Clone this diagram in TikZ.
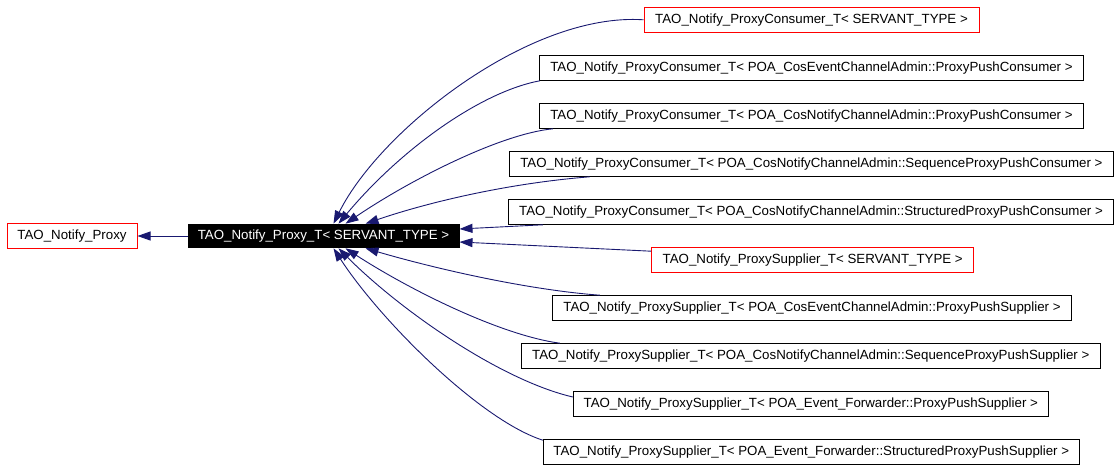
\documentclass[tikz,border=0pt]{standalone}
\usepackage{fontspec}
\setmainfont{Liberation Sans}
\usetikzlibrary{arrows.meta}
\definecolor{edgeblue}{RGB}{25,25,112}

\tikzset{
  cls/.style={draw=black, line width=1pt, fill=white, minimum height=24.6pt, inner sep=0pt, font=\fontsize{13.3}{15}\selectfont},
  undoc/.style={cls, draw=red},
  cur/.style={cls, fill=black, text=white, minimum height=23.6pt},
  inh/.style={edgeblue, line width=0.9pt, -{Triangle[length=13pt,width=9pt]}}
}

\begin{document}
\begin{tikzpicture}[x=1pt, y=-1pt]
        \useasboundingbox (0,0) rectangle (1120,469);
        % classes
        \node[undoc, minimum width=130pt] (base) at (72,236) {TAO\_Notify\_Proxy};
        \node[cur, minimum width=271pt] (proxyT) at (323.5,236) {TAO\_Notify\_Proxy\_T< SERVANT\_TYPE >};
        \node[undoc, minimum width=335pt] (pc1) at (811.5,19.8) {TAO\_Notify\_ProxyConsumer\_T< SERVANT\_TYPE >};
        \node[cls, minimum width=544.4pt] (pc2) at (811.5,68) {TAO\_Notify\_ProxyConsumer\_T< POA\_CosEventChannelAdmin::ProxyPushConsumer >};
        \node[cls, minimum width=544.4pt] (pc3) at (811.5,116) {TAO\_Notify\_ProxyConsumer\_T< POA\_CosNotifyChannelAdmin::ProxyPushConsumer >};
        \node[cls, minimum width=604.5pt] (pc4) at (811.4,164) {TAO\_Notify\_ProxyConsumer\_T< POA\_CosNotifyChannelAdmin::SequenceProxyPushConsumer >};
        \node[cls, minimum width=605.4pt] (pc5) at (811,212) {TAO\_Notify\_ProxyConsumer\_T< POA\_CosNotifyChannelAdmin::StructuredProxyPushConsumer >};
        \node[undoc, minimum width=322pt] (ps6) at (812.7,260) {TAO\_Notify\_ProxySupplier\_T< SERVANT\_TYPE >};
        \node[cls, minimum width=519.4pt] (ps7) at (812,308) {TAO\_Notify\_ProxySupplier\_T< POA\_CosEventChannelAdmin::ProxyPushSupplier >};
        \node[cls, minimum width=579pt] (ps8) at (810.8,356) {TAO\_Notify\_ProxySupplier\_T< POA\_CosNotifyChannelAdmin::SequenceProxyPushSupplier >};
        \node[cls, minimum width=475pt] (ps9) at (810.8,404) {TAO\_Notify\_ProxySupplier\_T< POA\_Event\_Forwarder::ProxyPushSupplier >};
        \node[cls, minimum width=536pt] (ps10) at (811.3,452) {TAO\_Notify\_ProxySupplier\_T< POA\_Event\_Forwarder::StructuredProxyPushSupplier >};

        % inheritance
        \draw[inh] (proxyT.west) -- (base.east);
        \draw[inh] (pc1.west) .. controls (530,12) and (380,130) .. ([xshift=10pt]proxyT.north);
        \draw[inh] ([xshift=1pt]pc2.south west) .. controls (480,92) and (400,150) .. ([xshift=15pt]proxyT.north);
        \draw[inh] ([xshift=14pt]pc3.south west) .. controls (500,134) and (410,180) .. ([xshift=22pt]proxyT.north);
        \draw[inh] ([xshift=81pt]pc4.south west) .. controls (500,184) and (420,205) .. ([xshift=42pt]proxyT.north);
        \draw[inh] ([xshift=35pt]pc5.south west) -- ([yshift=7pt]proxyT.east);
        \draw[inh] ([yshift=-4pt]ps6.north west) -- ([yshift=-6pt]proxyT.east);
        \draw[inh] ([xshift=48pt]ps7.north west) .. controls (530,290) and (440,270) .. ([xshift=42pt]proxyT.south);
        \draw[inh] ([xshift=39pt]ps8.north west) .. controls (500,335) and (410,290) .. ([xshift=22pt]proxyT.south);
        \draw[inh] ([yshift=7pt]ps9.west) .. controls (500,380) and (400,310) .. ([xshift=15pt]proxyT.south);
        \draw[inh] ([yshift=-1pt]ps10.north west) .. controls (480,420) and (380,320) .. ([xshift=10pt]proxyT.south);
\end{tikzpicture}
\end{document}
